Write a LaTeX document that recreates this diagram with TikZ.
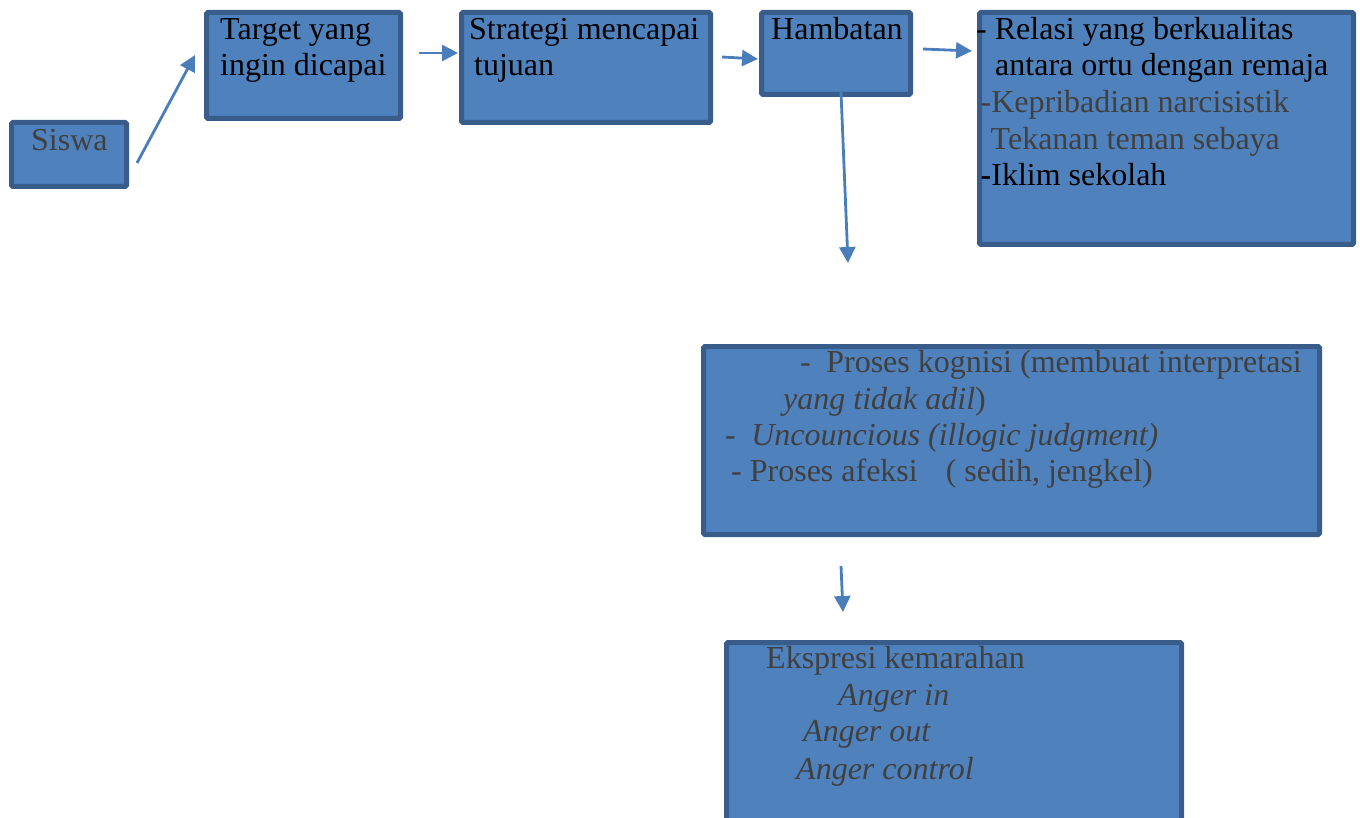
\documentclass[tikz,border=0pt]{standalone}
\usepackage{fontspec}
\setmainfont{Liberation Serif}
\usetikzlibrary{arrows.meta}
\definecolor{boxfill}{HTML}{4F81BD}
\definecolor{boxline}{HTML}{385D8A}
\definecolor{arrowc}{HTML}{4A7EBB}
\definecolor{greytext}{HTML}{404040}
\tikzset{
  box/.style={draw=boxline, fill=boxfill, line width=5pt, rounded corners=1.5pt, inner sep=0pt},
  txt/.style={anchor=base west, inner sep=0pt, font=\fontsize{32}{36}\selectfont},
  dark/.style={txt, text=black},
  grey/.style={txt, text=greytext},
  flow/.style={draw=arrowc, line width=2.8pt, -{Triangle[length=16pt,width=16pt]}},
}
\begin{document}
\begin{tikzpicture}[x=1pt,y=-1pt]
\useasboundingbox (0,0) rectangle (1360,818);
% boxes
\node[box, minimum width=115pt, minimum height=64pt]  (siswa)    at (69,154.5)   {};
\node[box, minimum width=194pt, minimum height=106pt] (target)   at (303.5,65.5) {};
\node[box, minimum width=249pt, minimum height=110pt] (strategi) at (586,67.5)   {};
\node[box, minimum width=149pt, minimum height=82pt]  (hambatan) at (836,53.5)   {};
\node[box, minimum width=374pt, minimum height=232pt] (relasi)   at (1166.5,128.5) {};
\node[box, minimum width=616pt, minimum height=188pt] (proses)   at (1011.5,440.5) {};
\node[box, minimum width=455pt, minimum height=185pt] (ekspresi) at (954,735)     {};
% texts
\node[grey] (tSiswa) at (31,150.7) {Siswa};
\node[dark] (tTarget1) at (220,40) {Target yang};
\node[dark] (tTarget2) at (220,76) {ingin dicapai};
\node[dark] (tStrat1) at (469,39.3) {Strategi mencapai};
\node[dark] (tStrat2) at (474,76) {tujuan};
\node[dark] (tHamb) at (771,39.3) {Hambatan};
\node[dark] (tRel1) at (976,39.3) {- Relasi yang berkualitas};
\node[dark] (tRel2) at (995,76) {antara ortu dengan remaja};
\node[grey] (tRel3) at (980.5,112.7) {-Kepribadian narcisistik};
\node[grey] (tRel4) at (990.5,150) {Tekanan teman sebaya};
\node[dark] (tRel5) at (980.5,186) {\textbf{-}Iklim sekolah};
\node[grey] (tPro1) at (800,372.7) {-\hspace{15.5pt}Proses kognisi (membuat interpretasi};
\node[grey] (tPro2) at (783,409.3) {\textit{yang tidak adil})};
\node[grey] (tPro3) at (725,445) {-\hspace{15.5pt}\textit{Uncouncious (illogic judgment)}};
\node[grey] (tPro4) at (731,481.7) {- Proses afeksi\hspace{28pt}( sedih, jengkel)};
\node[grey] (tEks1) at (766,668.3) {Ekspresi kemarahan};
\node[grey] (tEks2) at (838,705) {\textit{Anger in}};
\node[grey] (tEks3) at (803,741.7) {\textit{Anger out}};
\node[grey] (tEks4) at (796,779) {\textit{Anger control}};
% connectors
\coordinate (hend) at (848,263);
\coordinate (pstart) at (841,566);
\coordinate (pend) at (843,612);
\draw[flow] ([xshift=8pt,yshift=-8.5pt]siswa.east) -- ([xshift=-9pt,yshift=10.5pt]target.west);
\draw[flow] ([xshift=16pt,yshift=12.5pt]target.east) -- ([xshift=-1pt,yshift=14.5pt]strategi.west);
\draw[flow] ([xshift=9pt,yshift=10.5pt]strategi.east) -- ([xshift=-1pt,yshift=-5.5pt]hambatan.west);
\draw[flow] ([xshift=10pt,yshift=4.5pt]hambatan.east) -- ([xshift=-5pt,yshift=-41pt]relasi.north west);
\draw[flow] ([xshift=5pt,yshift=5pt]hambatan.south) -- (hend);
\draw[flow] (pstart) -- (pend);
\end{tikzpicture}
\end{document}
